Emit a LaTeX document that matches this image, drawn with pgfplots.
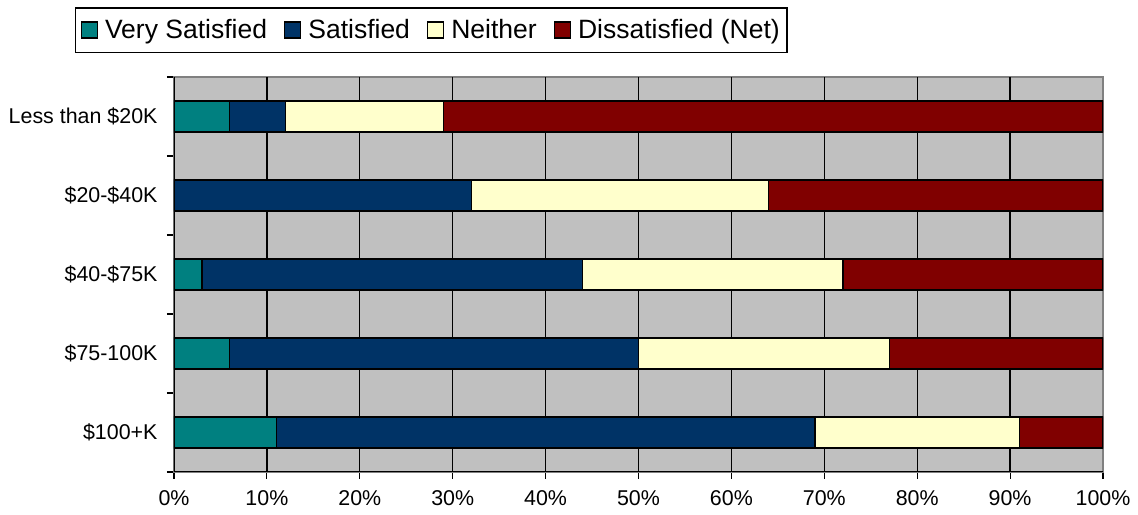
\documentclass[border=0pt]{standalone}
\usepackage{pgfplots}
\pgfplotsset{compat=1.18}
\usepackage{fontspec}
\setmainfont{Liberation Sans}

\definecolor{vsat}{RGB}{0,128,128}
\definecolor{sat}{RGB}{0,51,102}
\definecolor{neith}{RGB}{255,255,204}
\definecolor{dsat}{RGB}{128,0,0}
\definecolor{bggray}{RGB}{192,192,192}

\begin{document}
\begin{tikzpicture}
    \begin{axis}[
    name=ax,
    scale only axis,
    width=929pt, height=395pt,
    xbar stacked,
    bar width=31pt,
    xmin=0, xmax=100,
    ymin=-0.5, ymax=4.5,
    y dir=reverse,
    axis background/.style={fill=bggray},
    axis line style={draw=gray, line width=1.2pt},
    tick align=outside,
    tick pos=left,
    major tick length=7pt,
    tick style={black, line width=1.2pt},
    xtick={0,10,...,100},
    xticklabels={0\%,10\%,20\%,30\%,40\%,50\%,60\%,70\%,80\%,90\%,100\%},
    extra x ticks={10,20,...,90},
    extra x tick labels={},
    extra x tick style={grid=major, tick style={draw=none}},
    major grid style={black, line width=1.3pt},
    ytick={-0.5,0.5,...,4.5},
    yticklabels={},
    extra y ticks={0,1,2,3,4},
    extra y tick labels={Less than \$20K,\$20-\$40K,\$40-\$75K,\$75-100K,\$100+K},
    extra y tick style={tick style={draw=none}},
    ticklabel style={font=\fontsize{21.4}{25}\selectfont},
    xticklabel style={yshift=-8pt},
    yticklabel style={xshift=-6pt},
    legend columns=4,
    legend cell align=left,
    legend style={at={(axis description cs:-0.1066,1.1772)}, anchor=north west,
        draw=black, line width=1.5pt, font=\fontsize{26.5}{30}\selectfont,
        inner xsep=5pt, inner ysep=10pt,
        /tikz/every odd column/.append style={column sep=5pt},
        /tikz/every even column/.append style={column sep=15pt}},
    legend image code/.code={\draw[#1, draw=black, line width=1.3pt] (0pt,-8pt) rectangle (16pt,8pt);},
    every axis plot/.append style={draw=black, line width=1.3pt},
    ]
    \addplot[fill=vsat] coordinates {(6,0) (0,1) (3,2) (6,3) (11,4)};
    \addplot[fill=sat] coordinates {(6,0) (32,1) (41,2) (44,3) (58,4)};
    \addplot[fill=neith] coordinates {(17,0) (32,1) (28,2) (27,3) (22,4)};
    \addplot[fill=dsat] coordinates {(71,0) (36,1) (28,2) (23,3) (9,4)};
    \legend{Very Satisfied,Satisfied,Neither,Dissatisfied (Net)}
    \draw[black, line width=1.3pt] (rel axis cs:0,0) -- (rel axis cs:0,1);
    \draw[black, line width=1.3pt] (rel axis cs:0,0) -- (rel axis cs:1,0);
    \end{axis}
    \pgfresetboundingbox
    \path[use as bounding box] ([xshift=-174pt,yshift=-43pt]ax.south west) rectangle ([xshift=35pt,yshift=77pt]ax.north east);
\end{tikzpicture}
\end{document}
